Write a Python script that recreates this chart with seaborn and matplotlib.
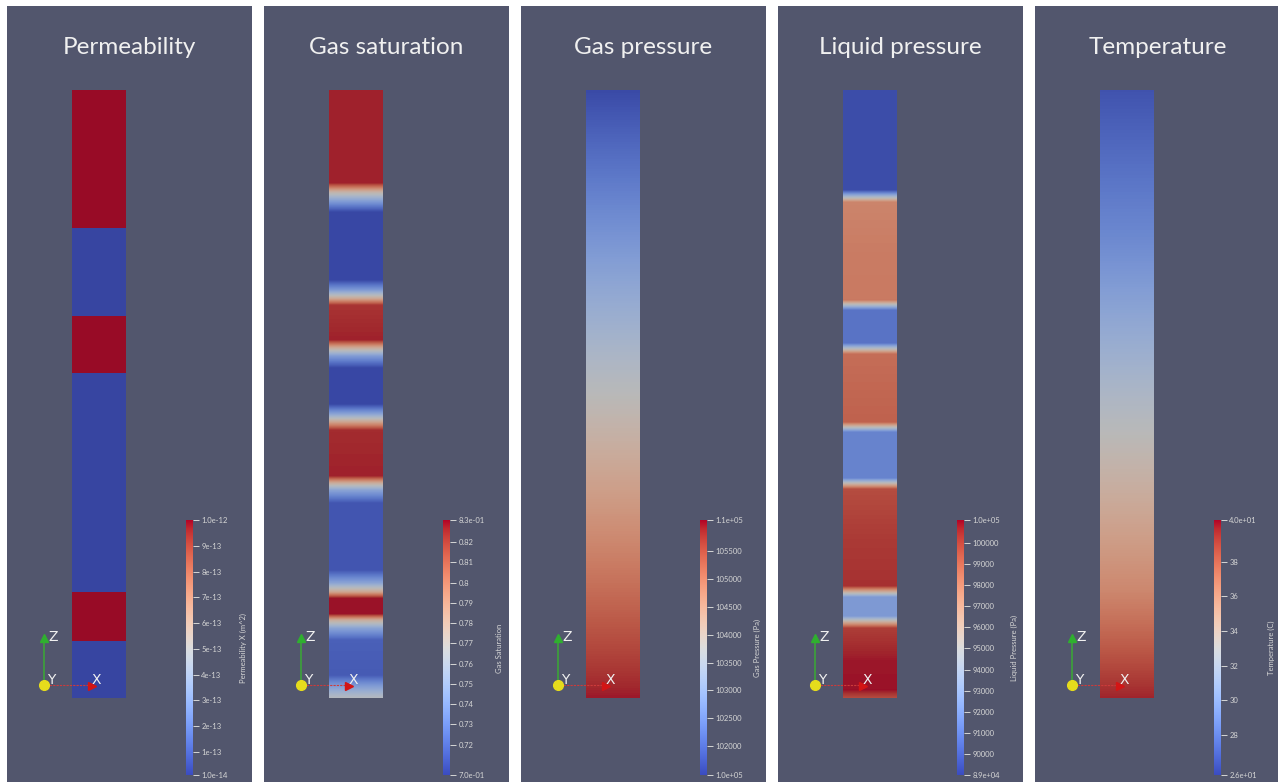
import numpy as np
import pandas as pd
import matplotlib
matplotlib.use("Agg")
import matplotlib.pyplot as plt
import seaborn as sns
from matplotlib.colors import ListedColormap, Normalize
from matplotlib.cm import ScalarMappable

sns.set_theme(style="white")
plt.rcParams["font.family"] = ["Lato", "DejaVu Sans"]

# ---------------------------------------------------------------- data
# depth along the column (m, 0 = top of the column, 60.8 = bottom)
column_length = 60.8

titles = ["Permeability", "Gas saturation", "Gas pressure",
          "Liquid pressure", "Temperature"]
bar_titles = ["Permeability X (m^2)", "Gas Saturation", "Gas Pressure (Pa)",
              "Liquid Pressure (Pa)", "Temperature (C)"]

# permeability: piecewise constant layers
perm_bounds = [0.0, 13.8, 22.6, 28.3, 50.2, 55.1, 60.8]
perm_values = [1e-12, 1e-14, 1e-12, 1e-14, 1e-12, 1e-14]

# gas saturation profile (depth, value)
sat_depth = [0.0, 9.3, 10.2, 11.0, 12.2, 19.0, 20.0, 20.8, 21.5, 25.0, 25.8,
             26.6, 27.8, 31.4, 32.4, 33.2, 34.0, 38.6, 39.3, 40.0, 41.3, 48.0,
             49.3, 50.2, 50.8, 52.4, 53.0, 53.8, 55.0, 58.5, 59.5, 60.5, 60.8]
sat_value = [0.828, 0.828, 0.775, 0.745, 0.706, 0.706, 0.740, 0.780, 0.824,
             0.828, 0.780, 0.740, 0.706, 0.706, 0.745, 0.785, 0.826, 0.828,
             0.780, 0.745, 0.711, 0.711, 0.745, 0.785, 0.830, 0.830, 0.780,
             0.745, 0.715, 0.713, 0.738, 0.760, 0.765]

# gas pressure profile (Pa)
gp_depth = [0.0, 60.8]
gp_value = [101550.0, 105990.0]

# liquid pressure profile (Pa)
lp_depth = [0.0, 10.0, 11.2, 16.0, 21.0, 22.0, 25.3, 26.4, 33.2, 34.2, 38.8,
            39.9, 45.0, 49.6, 50.7, 52.6, 53.8, 57.0, 60.0, 60.8]
lp_value = [89300, 89300, 98000, 98300, 98400, 90700, 90700, 98800, 99200,
            91300, 91300, 99800, 100300, 100500, 92300, 92300, 100200, 100900,
            101000, 99800]

# temperature profile (C)
t_depth = [0.0, 15.0, 34.0, 50.0, 60.8]
t_value = [26.3, 28.8, 33.0, 36.5, 40.0]

# colour ranges and colour-bar ticks
ranges = [(1e-14, 1e-12), (0.705, 0.831), (101480, 106060),
          (89000, 101090), (25.7, 40.4)]
tick_values = [
    [1e-14, 1e-13, 2e-13, 3e-13, 4e-13, 5e-13, 6e-13, 7e-13, 8e-13, 9e-13, 1e-12],
    [0.705, 0.72, 0.73, 0.74, 0.75, 0.76, 0.77, 0.78, 0.79, 0.80, 0.81, 0.82, 0.831],
    [101480, 102000, 102500, 103000, 103500, 104000, 104500, 105000, 105500, 106060],
    [89000, 90000, 91000, 92000, 93000, 94000, 95000, 96000, 97000, 98000,
     99000, 100000, 101090],
    [25.7, 28, 30, 32, 34, 36, 38, 40.4],
]
tick_labels = [
    ["1.0e-14", "1e-13", "2e-13", "3e-13", "4e-13", "5e-13", "6e-13", "7e-13",
     "8e-13", "9e-13", "1.0e-12"],
    ["7.0e-01", "0.72", "0.73", "0.74", "0.75", "0.76", "0.77", "0.78", "0.79",
     "0.8", "0.81", "0.82", "8.3e-01"],
    ["1.0e+05", "102000", "102500", "103000", "103500", "104000", "104500",
     "105000", "105500", "1.1e+05"],
    ["8.9e+04", "90000", "91000", "92000", "93000", "94000", "95000", "96000",
     "97000", "98000", "99000", "100000", "1.0e+05"],
    ["2.6e+01", "28", "30", "32", "34", "36", "38", "4.0e+01"],
]

# ---------------------------------------------------------------- fields
samples = np.arange(0.05, column_length, 0.1)


def layered(bounds, values):
    idx = np.clip(np.searchsorted(bounds, samples, side="right") - 1, 0, len(values) - 1)
    return np.asarray(values)[idx]


fields = [
    layered(perm_bounds, perm_values),
    np.interp(samples, sat_depth, sat_value),
    np.interp(samples, gp_depth, gp_value),
    np.interp(samples, lp_depth, lp_value),
    np.interp(samples, t_depth, t_value),
]

# ---------------------------------------------------------------- style
W, H = 1278, 782
panel_bg = "#52566d"
text_col = "#f0f0f0"
small_col = "#d6d6d6"

base = plt.get_cmap("coolwarm")(np.linspace(0, 1, 256))
lit = base.copy()
lit[:, :3] = base[:, :3] * 0.80 + 0.03      # shaded surface colours
surface_cmap = ListedColormap(lit)
bar_cmap = plt.get_cmap("coolwarm")

fig = plt.figure(figsize=(W / 100, H / 100), dpi=100, facecolor="white")


def box(x, y, w, h):
    return [x / W, 1 - (y + h) / H, w / W, h / H]


panel_left = [7, 264, 521, 778, 1035]
panel_top, panel_w, panel_h = 6, 245, 776

for i in range(5):
    px = panel_left[i]

    # background panel
    bg = fig.add_axes(box(px, panel_top, panel_w, panel_h))
    bg.set_facecolor(panel_bg)
    bg.set_xticks([])
    bg.set_yticks([])
    for s in bg.spines.values():
        s.set_visible(False)
    bg.text(0.5, 1 - 42 / panel_h, titles[i], transform=bg.transAxes,
            ha="center", va="center", color=text_col, fontsize=17.5)

    # the column
    col = fig.add_axes(box(px + 65, 90, 54, 608))
    df = pd.DataFrame({"value": fields[i]}, index=np.round(samples, 2))
    vmin, vmax = ranges[i]
    sns.heatmap(df, ax=col, cmap=surface_cmap, vmin=vmin, vmax=vmax,
                cbar=False, xticklabels=False, yticklabels=False)
    col.set_xlabel("")
    col.set_ylabel("")

    # colour bar
    cax = fig.add_axes(box(px + 179, 520, 7, 255))
    sm = ScalarMappable(norm=Normalize(vmin=vmin, vmax=vmax), cmap=bar_cmap)
    cb = fig.colorbar(sm, cax=cax)
    cb.outline.set_visible(False)
    cb.set_ticks(tick_values[i])
    cb.set_ticklabels(tick_labels[i])
    cax.tick_params(axis="y", direction="out", length=4, width=0.7,
                    colors=small_col, labelsize=5.5, pad=2)
    fig.text((px + 236) / W, 1 - 648 / H, bar_titles[i], rotation=90,
             ha="center", va="center", color=small_col, fontsize=5.5)

    # orientation axes
    tri = fig.add_axes(box(px, panel_top, panel_w, panel_h))
    tri.set_xlim(0, panel_w)
    tri.set_ylim(panel_h, 0)
    tri.patch.set_alpha(0)
    tri.set_xticks([])
    tri.set_yticks([])
    for s in tri.spines.values():
        s.set_visible(False)
    ox, oy = 37, 679
    tri.plot([ox, ox], [oy - 3, 635], color="#3d9d3d", lw=1.3)
    tri.plot([ox], [632], marker="^", ms=6, color="#2fb02f", mec="#2fb02f")
    tri.plot([ox + 2, 82], [oy, oy], color="#cc3b3b", lw=0.8, ls=(0, (2, 1)))
    tri.plot([85], [oy + 1], marker=">", ms=6, color="#d31515", mec="#d31515")
    tri.plot([ox], [oy], marker="o", ms=7, color="#e6dc1c", mec="#e6dc1c")
    tri.text(41, 631, "Z", color=text_col, fontsize=10, va="center", ha="left",
             family="DejaVu Sans")
    tri.text(40, 674, "Y", color=text_col, fontsize=10, va="center", ha="left",
             family="DejaVu Sans")
    tri.text(85, 674, "X", color=text_col, fontsize=10, va="center", ha="left",
             family="DejaVu Sans")

fig.savefig("out.png", dpi=100, facecolor="white")
